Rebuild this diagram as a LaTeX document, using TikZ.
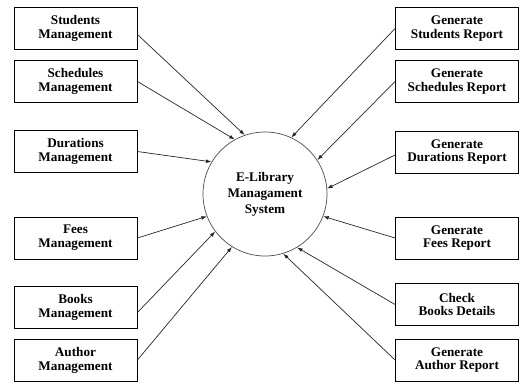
\documentclass[tikz,border=0pt]{standalone}
\usepackage{fontspec}
\setmainfont{Liberation Serif}
\usepackage{tikz}
\usetikzlibrary{arrows.meta,positioning}
\tikzset{
  modbox/.style={draw=black,line width=0.9pt,align=center,minimum width=123pt,minimum height=42pt,inner sep=2pt,font=\fontsize{13.2}{13.8}\selectfont\bfseries},
  sysnode/.style={circle,draw=black!70,line width=0.7pt,minimum size=124pt,inner sep=0pt,align=center,font=\fontsize{13.2}{16}\selectfont\bfseries},
  flowarrow/.style={-{Latex[length=5.5pt,width=3.8pt]},line width=0.7pt,draw=black!85}
}
\begin{document}
\begin{tikzpicture}[x=1pt,y=-1pt]
\useasboundingbox (0,0) rectangle (522,383);
\node[sysnode] (sys) at (265,194) {E-Library\\Managament\\System};

% left side
\node[modbox] (stud) at (75.5,28.5) {Students\\Management};
\node[modbox] (sched) at (75.5,81.5) {Schedules\\Management};
\node[modbox] (dur) at (75.5,151.5) {Durations\\Management};
\node[modbox] (fees) at (75.5,238) {Fees\\Management};
\node[modbox] (books) at (75.5,307.5) {Books\\Management};
\node[modbox] (auth) at (75.5,360) {Author\\Management};

% right side
\node[modbox] (rstud) at (457,28.5) {Generate\\Students Report};
\node[modbox] (rsched) at (457,81.5) {Generate\\Schedules Report};
\node[modbox] (rdur) at (457,152) {Generate\\Durations Report};
\node[modbox] (rfees) at (457,238) {Generate\\Fees Report};
\node[modbox] (rbooks) at (457,304.5) {Check\\Books Details};
\node[modbox] (rauth) at (457,360) {Generate\\Author Report};

\draw[flowarrow] ([yshift=-6pt]stud.east) -- (sys.109);
\draw[flowarrow] (sched.east) -- (sys.119);
\draw[flowarrow] (dur.east) -- (sys.149);
\draw[flowarrow] (fees.east) -- (sys.201);
\draw[flowarrow] ([yshift=-5pt]books.east) -- (sys.217);
\draw[flowarrow] (auth.east) -- (sys.238);

\draw[flowarrow] (rstud.west) -- (sys.65);
\draw[flowarrow] (rsched.west) -- (sys.33);
\draw[flowarrow] ([yshift=-3pt]rdur.west) -- (sys.5);
\draw[flowarrow] (rfees.west) -- (sys.-21);
\draw[flowarrow] (rbooks.west) -- (sys.-59);
\draw[flowarrow] (rauth.west) -- (sys.-73);
\end{tikzpicture}
\end{document}
